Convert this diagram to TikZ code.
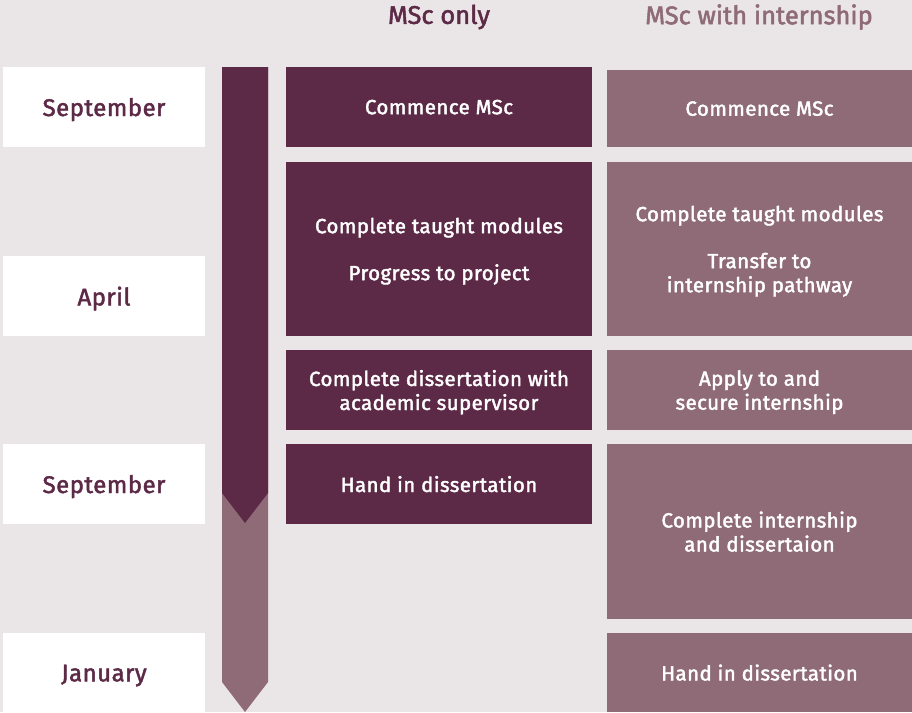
\documentclass[tikz,border=0pt]{standalone}
\usepackage{fontspec}
\setmainfont{Fira Sans}
\newfontfamily\medfont{Fira Sans}[FakeBold=2, LetterSpace=2]
\newfontfamily\headfont{Fira Sans}[FakeBold=2]
\usetikzlibrary{positioning}

\definecolor{plum}{HTML}{5C2A47}
\definecolor{mauve}{HTML}{8E6B76}
\definecolor{paper}{HTML}{EAE5E7}

\begin{document}
\begin{tikzpicture}[x=1pt, y=-1pt, inner sep=0pt, outer sep=0pt, node distance=14pt]

    \tikzstyle{month}=[fill=white, text=plum, minimum width=202pt, minimum height=80pt, text depth=0pt, font=\medfont\fontsize{24}{28}\selectfont]
    \tikzstyle{only}=[fill=plum, text=white, minimum width=306pt, minimum height=80pt, text depth=0pt, align=center, font=\medfont\fontsize{20.5}{24}\selectfont]
    \tikzstyle{intern}=[only, fill=mauve, minimum width=305pt]
    \tikzstyle{head}=[font=\headfont\fontsize{25.5}{28}\selectfont]

    \fill[paper] (0,0) rectangle (912,712);
    \useasboundingbox (0,0) rectangle (912,712);

    % months
    \node[month, anchor=north west] (sep1) at (3,67) {September};
    \node[month] (apr)  [below=109pt of sep1] {April};
    \node[month] (sep2) [below=108pt of apr]  {September};
    \node[month] (jan)  [below=109pt of sep2] {January};

    % time arrow
    \fill[mauve] (222,67) -- (268,67) -- (268,682) -- (245,712) -- (222,682) -- cycle;
    \fill[plum]  (222,67) -- (268,67) -- (268,493) -- (245,523) -- (222,493) -- cycle;

    % MSc only
    \node[head, text=plum] (h1) at (439,17) {MSc only};
    \node[only, anchor=north west] (o1) at (286,67) {Commence MSc};
    \node[only, minimum height=174pt] (o2) [below=15pt of o1] {Complete taught modules\\[23pt]Progress to project};
    \node[only] (o3) [below=14pt of o2] {Complete dissertation with\\academic supervisor};
    \node[only] (o4) [below=14pt of o3] {Hand in dissertation};

    % MSc with internship
    \node[head, text=mauve] (h2) at (759,17) {MSc with internship};
    \node[intern, anchor=north west, minimum height=77pt] (i1) at (607,70) {Commence MSc};
    \node[intern, minimum height=174pt] (i2) [below=15pt of i1] {Complete taught modules\\[23pt]Transfer to\\internship pathway};
    \node[intern] (i3) [below=14pt of i2] {Apply to and\\secure internship};
    \node[intern, minimum height=175pt] (i4) [below=14pt of i3] {Complete internship\\and dissertaion};
    \node[intern, minimum height=79pt] (i5) [below=14pt of i4] {Hand in dissertation};

\end{tikzpicture}
\end{document}
